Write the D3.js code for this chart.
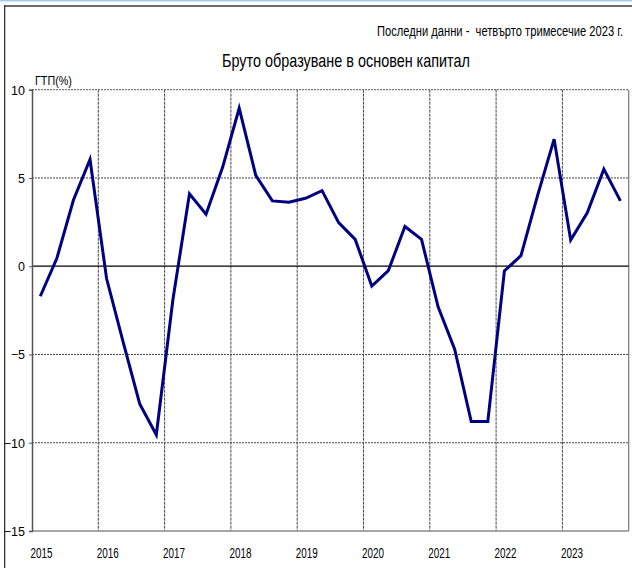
<!DOCTYPE html>
<html>
<head>
<meta charset="utf-8">
<script src="https://cdn.jsdelivr.net/npm/d3@7/dist/d3.min.js"></script>
<style>
  html, body { margin: 0; padding: 0; background: #fff; }
  svg { display: block; }
  text { font-family: "Liberation Sans Narrow", "Liberation Sans", "DejaVu Sans Condensed", sans-serif; fill: #000; }
</style>
</head>
<body>
<svg id="chart" width="632" height="568"></svg>
<script>
const subtitle = "Последни данни -  четвърто тримесечие 2023 г.";
const title = "Бруто образуване в основен капитал";
const yAxisTitle = "ГТП(%)";
const years = [2015, 2016, 2017, 2018, 2019, 2020, 2021, 2022, 2023];
const yTicks = [10, 5, 0, -5, -10, -15];
const quarters = ["2015Q1","2015Q2","2015Q3","2015Q4","2016Q1","2016Q2","2016Q3","2016Q4",
  "2017Q1","2017Q2","2017Q3","2017Q4","2018Q1","2018Q2","2018Q3","2018Q4",
  "2019Q1","2019Q2","2019Q3","2019Q4","2020Q1","2020Q2","2020Q3","2020Q4",
  "2021Q1","2021Q2","2021Q3","2021Q4","2022Q1","2022Q2","2022Q3","2022Q4",
  "2023Q1","2023Q2","2023Q3","2023Q4"];
const values = [-1.7, 0.45, 3.75, 6.05, -0.7, -4.3, -7.8, -9.55,
  -1.9, 4.1, 2.95, 5.6, 8.95, 5.15, 3.7, 3.62,
  3.85, 4.28, 2.47, 1.52, -1.12, -0.25, 2.25, 1.52,
  -2.3, -4.7, -8.8, -8.8, -0.27, 0.6, 4.0, 7.2,
  1.48, 3.03, 5.5, 3.7];

const svg = d3.select("#chart");
const L = 32, R = 628.7, T = 89.7, B = 531;

const x = d3.scaleLinear().domain([2015, 2024]).range([L, R]);
const y = d3.scaleLinear().domain([-15, 10]).range([B, T]);
const qx = q => { const yr = +q.slice(0, 4), qi = +q.slice(5); return x(yr + (qi - 0.5) / 4); };

// frame
svg.append("rect").attr("x", 0).attr("y", 0).attr("width", 632).attr("height", 1.5).attr("fill", "#a9c9ea");
svg.append("rect").attr("x", 4).attr("y", 5).attr("width", 628).attr("height", 2).attr("fill", "#6e6e6e");
svg.append("rect").attr("x", 4).attr("y", 5).attr("width", 1.3).attr("height", 563).attr("fill", "#333");

// condensed text via horizontal scaling
function narrowText(px, py, anchor, size, str, targetW) {
  const t = svg.append("text").attr("text-anchor", anchor).attr("font-size", size)
    .style("white-space", "pre").text(str);
  const w = t.node().getComputedTextLength();
  const s = Math.min(1, targetW / w);
  t.attr("transform", `translate(${px},${py}) scale(${s},1)`);
  return t;
}
narrowText(623, 35.5, "end", 15.5, subtitle, 246);
narrowText(346, 67, "middle", 19, title, 248);
narrowText(35, 84.5, "start", 12.5, yAxisTitle, 37);

// grid
const g = svg.append("g");
g.selectAll("line.hg").data(yTicks.filter(v => v !== 0 && v !== -15 && v !== 10)).join("line")
  .attr("x1", L).attr("x2", R).attr("y1", d => y(d)).attr("y2", d => y(d))
  .attr("stroke", "#444").attr("stroke-width", 1).attr("stroke-dasharray", "2,1");
g.selectAll("line.vg").data(years.slice(1)).join("line")
  .attr("x1", d => x(d)).attr("x2", d => x(d)).attr("y1", T).attr("y2", B)
  .attr("stroke", "#444").attr("stroke-width", 1).attr("stroke-dasharray", "3,1");
g.append("line").attr("x1", L).attr("x2", R).attr("y1", T).attr("y2", T)
  .attr("stroke", "#777").attr("stroke-width", 1.2).attr("stroke-dasharray", "2,1");
g.append("line").attr("x1", R).attr("x2", R).attr("y1", T).attr("y2", B).attr("stroke", "#808080").attr("stroke-width", 1.3);
g.append("line").attr("x1", L).attr("x2", R).attr("y1", B).attr("y2", B).attr("stroke", "#8a8a8a").attr("stroke-width", 1.5);
g.append("line").attr("x1", L).attr("x2", R).attr("y1", y(0)).attr("y2", y(0)).attr("stroke", "#000").attr("stroke-width", 1.3);

// y axis
const yAxis = d3.axisLeft(y).tickValues(yTicks).tickSize(3).tickPadding(5).tickFormat(d3.format("d"));
const ya = svg.append("g").attr("transform", `translate(${L},0)`).call(yAxis);
ya.select(".domain").attr("stroke", "#555").attr("stroke-width", 1.5);
ya.selectAll(".tick line").attr("stroke", "#555");
ya.selectAll(".tick text").attr("font-size", 12.5).attr("font-family", null).attr("x", -7).attr("dy", "0.35em")
  .attr("fill", "#000");

// x labels
const xAxis = d3.axisBottom(x).tickValues(years).tickSize(0).tickFormat(d3.format("d"));
const xa = svg.append("g").attr("transform", `translate(0,${B})`).call(xAxis);
xa.select(".domain").remove();
xa.selectAll(".tick text").attr("font-size", 15).attr("font-family", null).attr("fill", "#000")
  .attr("text-anchor", "start").attr("x", -2).attr("y", 26.5).attr("dy", 0)
  .attr("textLength", 22).attr("lengthAdjust", "spacingAndGlyphs");

// line
const line = d3.line().x((d, i) => qx(quarters[i])).y(d => y(d));
svg.append("path").datum(values).attr("d", line)
  .attr("fill", "none").attr("stroke", "#000080").attr("stroke-width", 3)
  .attr("stroke-linejoin", "miter").attr("stroke-miterlimit", 4);
</script>
</body>
</html>
